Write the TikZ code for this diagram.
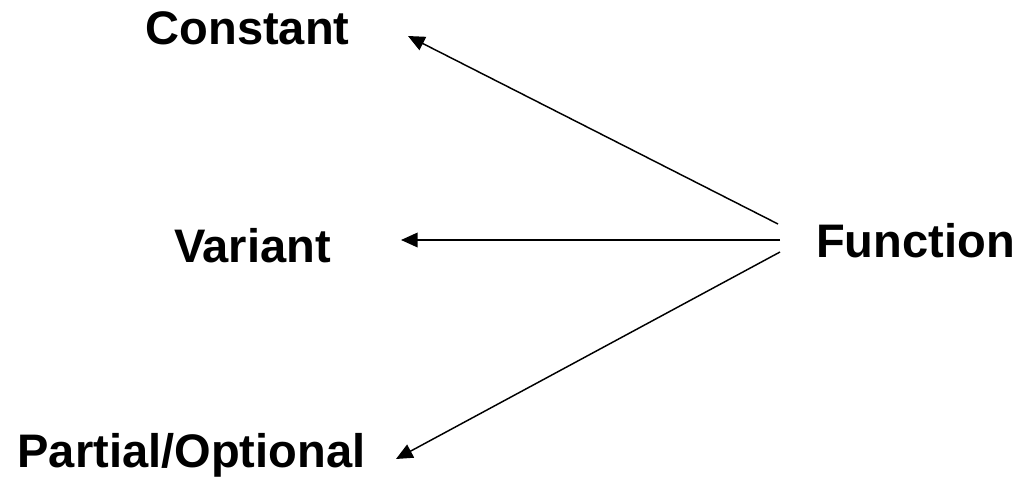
\documentclass[tikz,border=0pt]{standalone}
\usepackage{fontspec}
\setmainfont{Liberation Sans}
\usetikzlibrary{arrows.meta}

\tikzset{
  lbl/.style={anchor=base,inner sep=0.75pt,font=\fontsize{35.3}{40}\selectfont\bfseries},
  arr/.style={line width=1.1pt,-{Triangle[length=12.5pt,width=11pt]}}
}

\begin{document}
\begin{tikzpicture}[x=0.75pt,y=0.75pt,yscale=-1,xscale=1]
%set diagram size
\useasboundingbox (0,0) rectangle (1021,478);

% Text Node
\node[lbl] (con) at (247.5,44.5) {Constant};
% Text Node
\node[lbl] (var) at (252.5,262) {Variant};
% Text Node
\node[lbl] (par) at (191.5,467) {Partial/Optional};
% Text Node
\node[lbl] (fun) at (915.5,257) {Function};

%line ends left of Function
\coordinate (s1) at (778,224);
\coordinate (s2) at (780,240);
\coordinate (s3) at (780,252);
%arrow tips right of the labels
\coordinate (t1) at (408,36);
\coordinate (t2) at (401,240);
\coordinate (t3) at (396,459);

%Straight Lines
\draw[arr] (s1) -- (t1);
%Straight Lines
\draw[arr] (s2) -- (t2);
%Straight Lines
\draw[arr] (s3) -- (t3);

\end{tikzpicture}
\end{document}
